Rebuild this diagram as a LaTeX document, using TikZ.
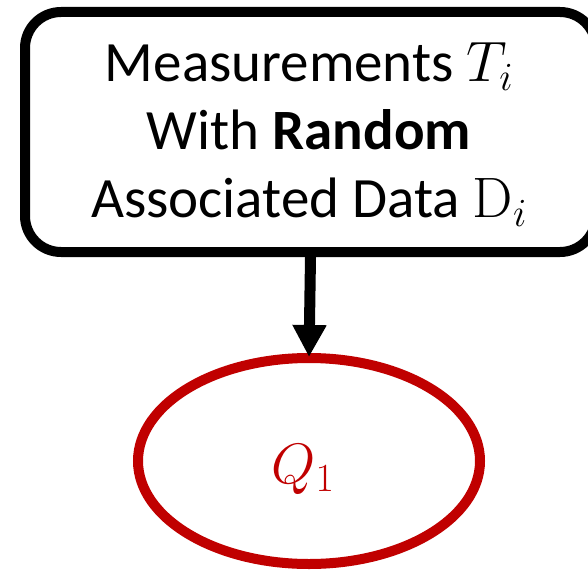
\RequirePackage{fix-cm}
\documentclass[tikz,border=0pt]{standalone}
\usepackage[no-math]{fontspec}
\setmainfont{Carlito}
\usetikzlibrary{arrows.meta,shapes.geometric}
\definecolor{darkred}{HTML}{C00000}
\tikzset{
  box/.style={draw=black, line width=10pt, rounded corners=36pt, fill=white,
    minimum width=571pt, minimum height=240pt, inner sep=0pt},
  txt/.style={align=center, inner sep=0pt, font=\fontsize{57}{68}\selectfont},
  oval/.style={ellipse, draw=darkred, line width=10pt, minimum width=342pt,
    minimum height=206pt, inner sep=0pt},
  lbl/.style={text=darkred, font=\fontsize{57}{68}\selectfont, inner sep=0pt},
  link/.style={line width=11pt, -{Triangle[width=32pt,length=32pt]}}
}
\begin{document}
\begin{tikzpicture}[x=1pt,y=-1pt]
\useasboundingbox (0,0) rectangle (588,572);
\node[box] (m) at (310.5,132) {};
\node[txt] (mt) at (309,134.5) {Measurements $T_i$\\With \textbf{Random}\\Associated Data $\mathrm{D}_i$};
\node[oval] (q) at (309,461) {};
\node[lbl, anchor=base] (qt) at (303,483) {$Q_1$};
\draw[link] (m.south) -- ([yshift=-4pt]q.north);
\end{tikzpicture}
\end{document}
